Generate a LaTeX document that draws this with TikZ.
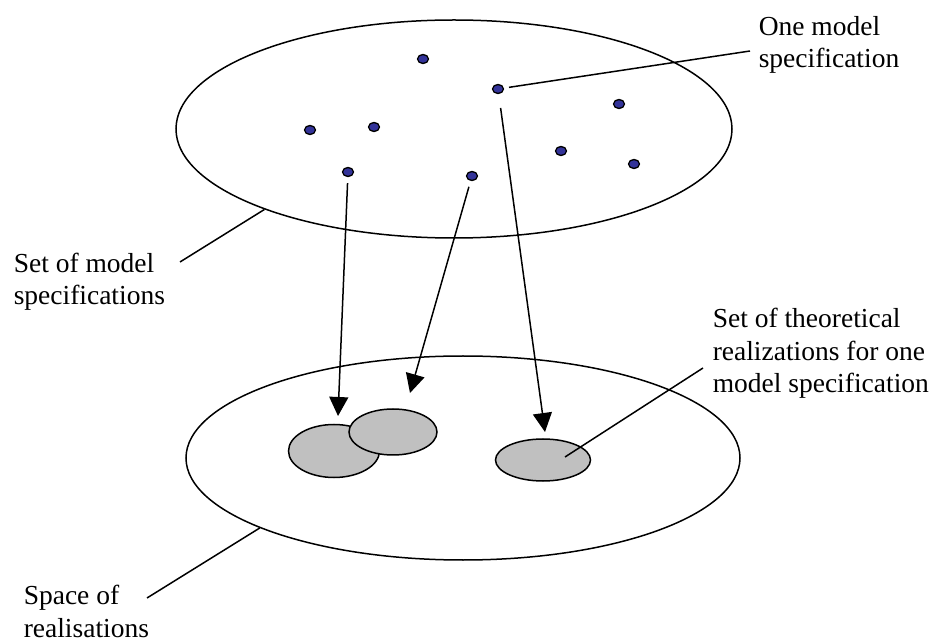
\documentclass[tikz,border=0pt]{standalone}
\usepackage{fontspec}
\setmainfont{Liberation Serif}
\usetikzlibrary{arrows.meta}
\usetikzlibrary{shapes.geometric}
\definecolor{dotblue}{HTML}{333399}
\definecolor{blobgray}{HTML}{C0C0C0}

\begin{document}
\begin{tikzpicture}
			[x=1pt,y=-1pt,line width=1.5pt,
			spec/.style={draw,ellipse,fill=dotblue,line width=1.3pt,minimum width=11pt,minimum height=9pt,inner sep=0pt},
			blob/.style={draw,ellipse,fill=blobgray,inner sep=0pt},
			label/.style={anchor=base west,align=left,inner sep=0pt,font=\fontsize{27.5}{32.5}\selectfont},
			map/.style={-{Triangle[length=19pt,width=19pt]}}]
			\useasboundingbox (0,0) rectangle (938,644);
			\node[draw,ellipse,minimum width=556pt,minimum height=218pt,inner sep=0pt] (specs) at (454,129) {};
			\node[draw,ellipse,minimum width=554pt,minimum height=204pt,inner sep=0pt] (space) at (463,458) {};
			\node[spec] (s1) at (423,59) {};
			\node[spec] (s2) at (498,89) {};
			\node[spec] (s3) at (619,104) {};
			\node[spec] (s4) at (310,130) {};
			\node[spec] (s5) at (374,127) {};
			\node[spec] (s6) at (348,172) {};
			\node[spec] (s7) at (472,176) {};
			\node[spec] (s8) at (561,151) {};
			\node[spec] (s9) at (634,164) {};
			\node[blob,minimum width=91pt,minimum height=53pt] (r1) at (334,451) {};
			\node[blob,minimum width=88pt,minimum height=46pt] (r2) at (393,432) {};
			\node[blob,minimum width=95pt,minimum height=42pt] (r3) at (543,460) {};
			\node[label] (onespec) at (758,68) {One model\\specification};
			\node[label] (specset) at (13,305) {Set of model\\specifications};
			\node[label] (theory) at (712,393) {Set of theoretical\\realizations for one\\model specification};
			\node[label] (realspace) at (23,637) {Space of\\realisations};
			\coordinate (t1) at (338,416);
			\coordinate (t2) at (410,393);
			\coordinate (t3) at (545,432);
			\coordinate (p1) at (750,51);
			\coordinate (p2) at (180,262);
			\coordinate (p3) at (565,457);
			\coordinate (p3end) at (703,368);
			\coordinate (p4) at (147,598);
			\draw[map,shorten <=6pt] (s6) -- (t1);
			\draw[map,shorten <=6pt] (s7) -- (t2);
			\draw[map,shorten <=14pt] (s2) -- (t3);
			\draw[shorten <=5pt] (s2) -- (p1);
			\draw (p2) -- (specs.203.8);
			\draw (p3) -- (p3end);
			\draw (p4) -- (space.199.8);
\end{tikzpicture}
\end{document}
